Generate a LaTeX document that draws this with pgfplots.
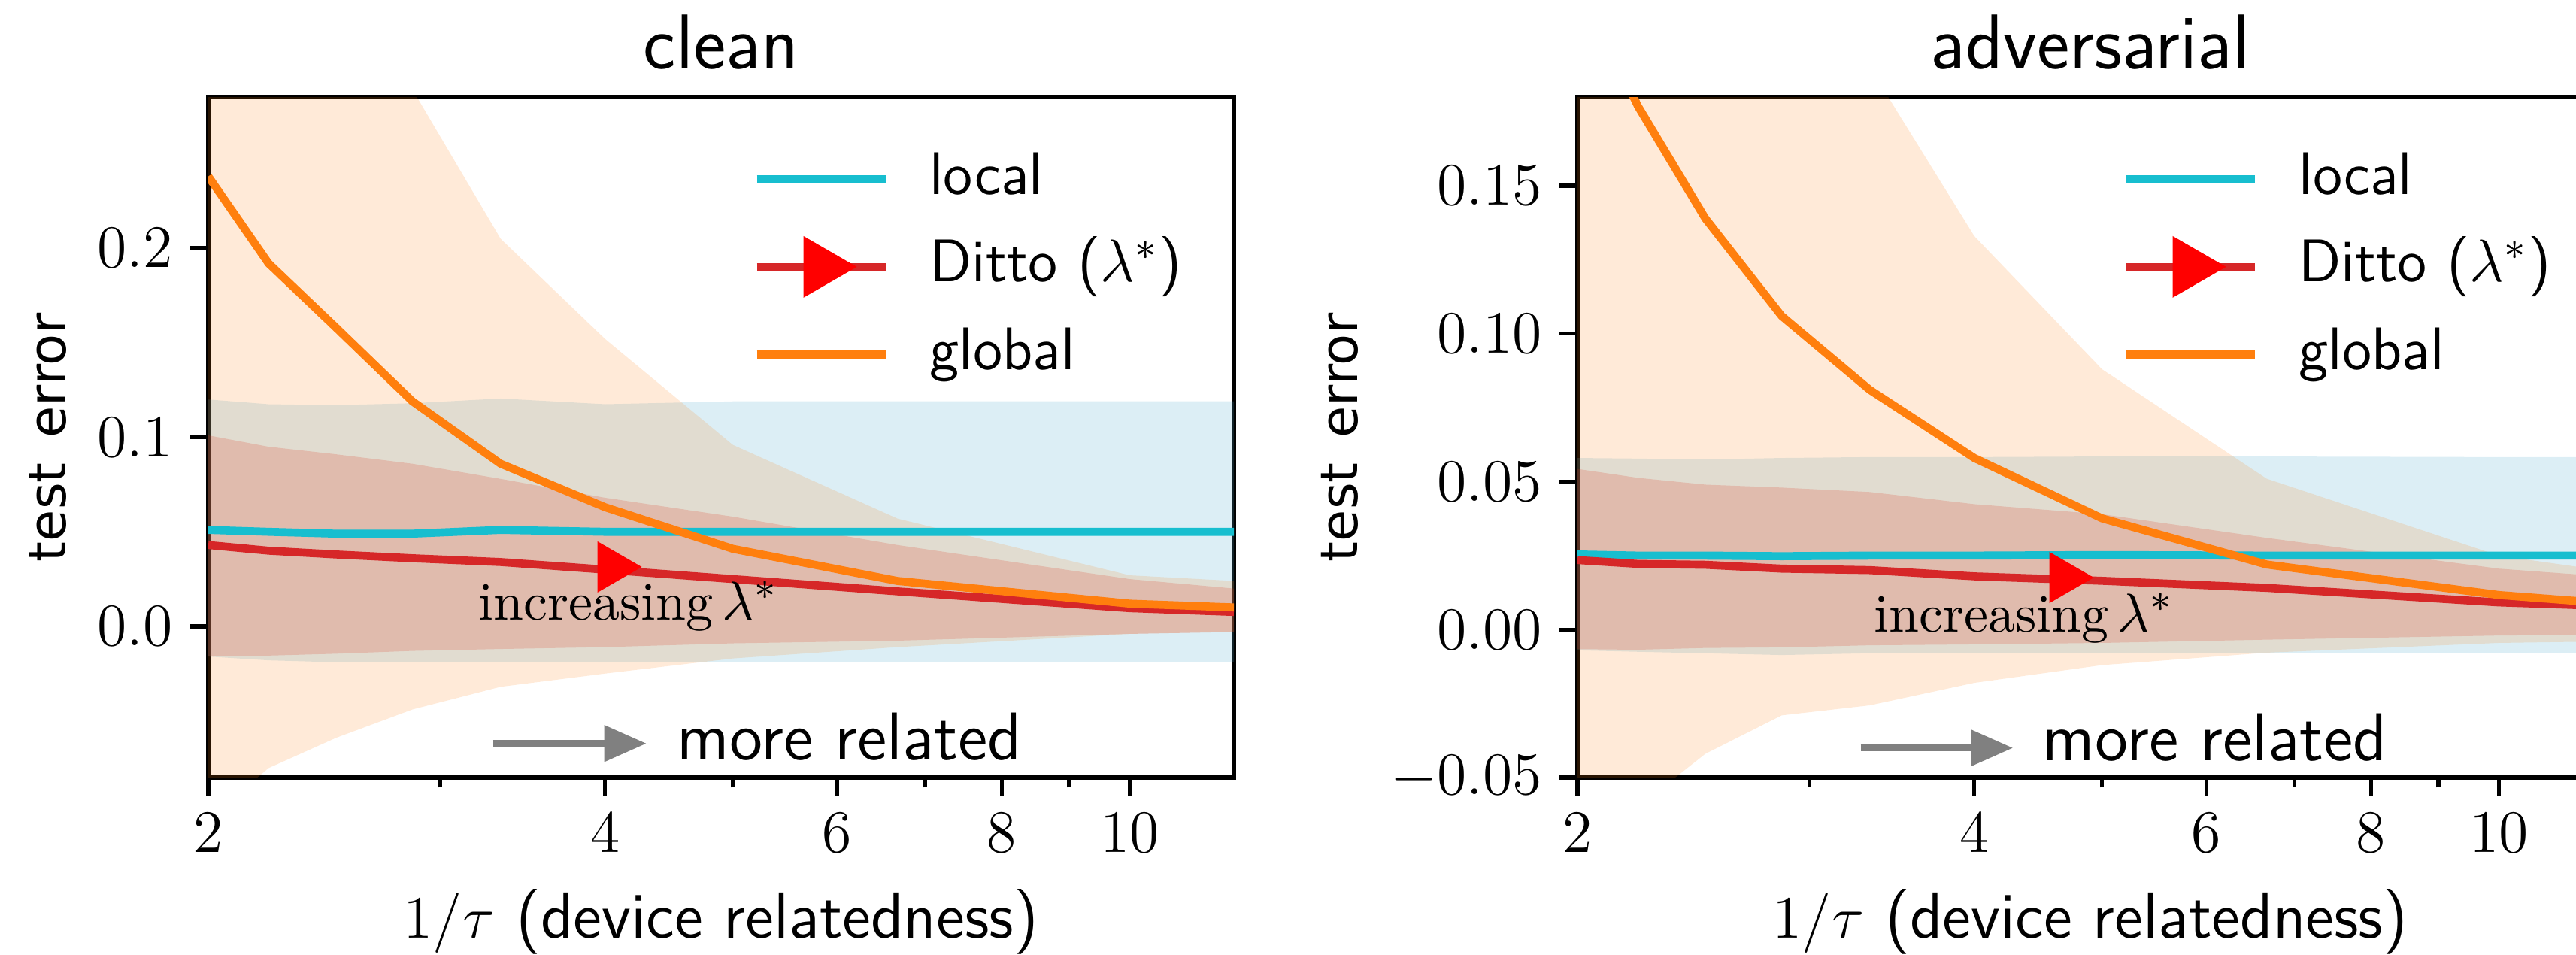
\documentclass[border=0pt]{standalone}
\usepackage{fontspec}
\usepackage{pgfplots}
\usepackage{pgfplotstable}
\pgfplotsset{compat=1.18}
\usepgfplotslibrary{fillbetween}
\usetikzlibrary{arrows.meta}
\newfontfamily\dejavu{DejaVu Sans}
\definecolor{tabcyan}{HTML}{17BECF}
\definecolor{tabred}{HTML}{D62728}
\definecolor{taborange}{HTML}{FF7F0E}
\definecolor{bandblue}{RGB}{80,170,205}

% x = 1/tau; l = local, d = Ditto, g = global (mean, low, high)
\pgfplotstableread{
x      lm     llo     lhi     dm      dlo     dhi    gm     glo     ghi
2      0.051  -0.016  0.120   0.043   -0.016  0.101  0.238  -0.102  0.48
2.222  0.050  -0.018  0.1175  0.040   -0.0155 0.095  0.192  -0.075  0.42
2.5    0.049  -0.019  0.117   0.038   -0.0145 0.091  0.158  -0.059  0.36
2.857  0.049  -0.019  0.118   0.036   -0.013  0.086  0.119  -0.044  0.284
3.333  0.051  -0.019  0.1205  0.034   -0.012  0.078  0.086  -0.032  0.205
4      0.050  -0.019  0.1175  0.030   -0.011  0.068  0.063  -0.025  0.152
5      0.050  -0.019  0.119   0.025   -0.009  0.058  0.041  -0.017  0.096
6.667  0.050  -0.019  0.119   0.0185  -0.0076 0.043  0.024  -0.011  0.057
10     0.050  -0.019  0.119   0.0096  -0.004  0.025  0.012  -0.004  0.027
12     0.050  -0.019  0.119   0.0076  -0.003  0.020  0.010  -0.003  0.024
}\clean

\pgfplotstableread{
x      lm      llo      lhi     dm      dlo      dhi     gm      glo      ghi
2      0.0254  -0.007   0.058   0.0235  -0.0066  0.0543  0.22    -0.08    0.38
2.222  0.025   -0.0075  0.0578  0.0222  -0.0068  0.0513  0.177   -0.060   0.34
2.5    0.025   -0.008   0.0575  0.0219  -0.0062  0.049   0.139   -0.042   0.30
2.857  0.0248  -0.0086  0.058   0.0206  -0.006   0.048   0.106   -0.029   0.25
3.333  0.025   -0.008   0.0583  0.0201  -0.0053  0.0465  0.081   -0.0256  0.19
4      0.025   -0.008   0.0583  0.018   -0.005   0.0424  0.058   -0.018   0.133
5      0.0252  -0.008   0.0585  0.0165  -0.0045  0.039   0.0376  -0.012   0.088
6.667  0.025   -0.008   0.0585  0.0141  -0.0034  0.031   0.022   -0.0078  0.051
10     0.025   -0.008   0.0583  0.0092  -0.002   0.0206  0.0117  -0.0045  0.025
12     0.025   -0.008   0.0583  0.008   -0.0018  0.018   0.009   -0.004   0.02
}\adv

\pgfplotsset{
  panel/.style={
    scale only axis, width=204.6pt, height=135.75pt,
    xmin=2, xmax=12,
    xtick={2,4,6,8,10}, xticklabels={$2$,$4$,$6$,$8$,$10$},
    minor xtick={3,5,7,9},
    tick align=outside, tick pos=left,
    major tick length=3.6pt, minor tick length=2pt,
    every tick/.style={black, line width=0.8pt},
    axis line style={line width=0.8pt},
    tick label style={font=\fontsize{12}{14}\selectfont},
    title style={at={(axis description cs:0.5,1)}, anchor=base, yshift=-0.3pt,
      inner sep=0pt, font=\sffamily\fontsize{15.5}{18}\selectfont},
    xlabel={$1/\tau$ \textsf{(device relatedness)}},
    xlabel style={at={(axis description cs:0.5,0)}, anchor=base, yshift=-32pt,
      inner sep=0pt, font=\fontsize{13}{15}\selectfont},
    ylabel={\dejavu test\hspace{0.48em}error},
    ylabel style={anchor=base, inner sep=0pt, font=\fontsize{10.3}{12}\selectfont},
    legend style={at={(axis description cs:0.53,0.925)}, anchor=north west,
      draw=none, fill=none, inner sep=0pt, row sep=5.5pt, column sep=8pt,
      font=\sffamily\fontsize{12}{14}\selectfont,
      nodes={inner sep=0pt, text height=9pt, text depth=3pt}},
    legend cell align=left,
  },
}

\newcommand{\bands}[1]{%
  \addplot[draw=none, name path=lhi, forget plot] table[x=x, y=lhi] {#1};
  \addplot[draw=none, name path=llo, forget plot] table[x=x, y=llo] {#1};
  \addplot[fill=bandblue, fill opacity=0.2, draw=none, forget plot] fill between[of=lhi and llo];
  \addplot[draw=none, name path=dhi, forget plot] table[x=x, y=dhi] {#1};
  \addplot[draw=none, name path=dlo, forget plot] table[x=x, y=dlo] {#1};
  \addplot[fill=tabred, fill opacity=0.2, draw=none, forget plot] fill between[of=dhi and dlo];
  \addplot[draw=none, name path=ghi, forget plot] table[x=x, y=ghi] {#1};
  \addplot[draw=none, name path=glo, forget plot] table[x=x, y=glo] {#1};
  \addplot[fill=taborange, fill opacity=0.16, draw=none, forget plot] fill between[of=ghi and glo];
  \addplot[line width=1.6pt, tabcyan,
    legend image code/.code={\draw[tabcyan, line width=1.6pt] (0pt,0pt) -- (25.7pt,0pt);}]
    table[x=x, y=lm] {#1};
  \addlegendentry{local}
  \addplot[line width=1.6pt, tabred,
    legend image code/.code={\draw[tabred, line width=1.6pt] (0pt,0pt) -- (25.7pt,0pt);
      \fill[red] (18.35pt,0pt) -- (10.1pt,4.76pt) -- (10.1pt,-4.76pt) -- cycle;}]
    table[x=x, y=dm] {#1};
  \addlegendentry{Ditto ($\lambda^*$)}
  \addplot[line width=1.6pt, taborange,
    legend image code/.code={\draw[taborange, line width=1.6pt] (0pt,0pt) -- (25.7pt,0pt);}]
    table[x=x, y=gm] {#1};
  \addlegendentry{global}
}

\begin{document}
\begin{tikzpicture}
\begin{axis}[xmode=log, panel, anchor=south west, at={(41.55pt,35.25pt)},
  title={clean},
  ymin=-0.08, ymax=0.28,
  ytick={0,0.1,0.2}, yticklabels={$0.0$,$0.1$,$0.2$},
  ylabel style={at={(axis description cs:-0.139,0.5)}},
]
\bands{\clean}
\addplot[only marks, mark=triangle*, mark size=5.5pt,
  mark options={rotate=-90, fill=red, draw=red}, forget plot]
  coordinates {(4.05,0.0314)};
\draw[gray, line width=1.3pt, -{Triangle[length=8.4pt,width=7pt]}]
  (axis cs:3.29,-0.062) -- (axis cs:4.30,-0.062);
\node[anchor=base west, inner sep=0pt, font=\sffamily\fontsize{13.5}{16}\selectfont]
  at (axis cs:4.53,-0.0705) {more related};
\node[anchor=base west, inner sep=0pt, font=\fontsize{10.8}{13}\selectfont]
  at (axis cs:3.2,0.0035) {increasing$\,\lambda^*$};
\end{axis}

\begin{axis}[xmode=log, panel, anchor=south west, at={(314.7pt,35.25pt)},
  title={adversarial},
  ymin=-0.05, ymax=0.18,
  ytick={-0.05,0,0.05,0.1,0.15},
  yticklabels={$-0.05$,$0.00$,$0.05$,$0.10$,$0.15$},
  ylabel style={at={(axis description cs:-0.2148,0.5)}},
]
\bands{\adv}
\addplot[only marks, mark=triangle*, mark size=5.5pt,
  mark options={rotate=-90, fill=red, draw=red}, forget plot]
  coordinates {(4.68,0.0176)};
\draw[gray, line width=1.3pt, -{Triangle[length=8.4pt,width=7pt]}]
  (axis cs:3.28,-0.040) -- (axis cs:4.28,-0.040);
\node[anchor=base west, inner sep=0pt, font=\sffamily\fontsize{13.5}{16}\selectfont]
  at (axis cs:4.50,-0.0444) {more related};
\node[anchor=base west, inner sep=0pt, font=\fontsize{10.8}{13}\selectfont]
  at (axis cs:3.35,-0.0007) {increasing$\,\lambda^*$};
\end{axis}
\pgfresetboundingbox
\useasboundingbox (0pt,0pt) rectangle (513.9pt,190.35pt);
\end{tikzpicture}
\end{document}
